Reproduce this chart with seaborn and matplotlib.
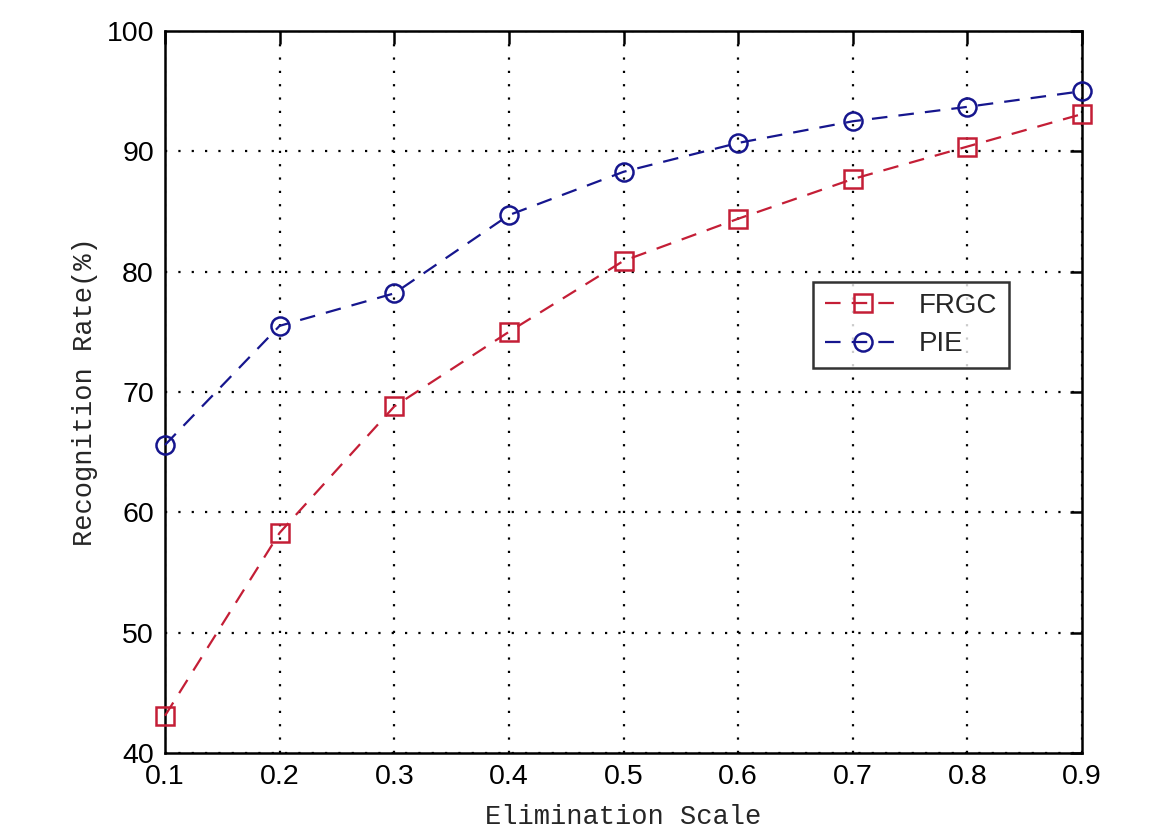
import matplotlib
matplotlib.use("Agg")
import matplotlib.pyplot as plt
import seaborn as sns
import pandas as pd

# Recognition rate versus elimination scale on two face datasets
scales = [0.1, 0.2, 0.3, 0.4, 0.5, 0.6, 0.7, 0.8, 0.9]
frgc = [43.1, 58.3, 68.8, 75.0, 80.9, 84.4, 87.7, 90.4, 93.1]
pie = [65.6, 75.5, 78.2, 84.7, 88.3, 90.7, 92.5, 93.7, 95.0]
x_ticks = [0.1, 0.2, 0.3, 0.4, 0.5, 0.6, 0.7, 0.8, 0.9]
y_ticks = [40, 50, 60, 70, 80, 90, 100]

df = pd.DataFrame({"scale": scales, "FRGC": frgc, "PIE": pie})

sns.set_style("white")
plt.rcParams["font.family"] = ["Liberation Sans", "DejaVu Sans"]

fig = plt.figure(figsize=(11.76, 8.34), dpi=100)
ax = fig.add_axes([0.1403, 0.0971, 0.7798, 0.8657])

red = "#c41e36"
blue = "#16168e"
dash = (0, (7, 5))

sns.lineplot(data=df, x="scale", y="FRGC", ax=ax, color=red, label="FRGC",
             marker="s", markersize=12.5, markerfacecolor="none",
             markeredgecolor=red, markeredgewidth=1.8,
             linewidth=1.6, linestyle=dash, clip_on=False, zorder=4)
sns.lineplot(data=df, x="scale", y="PIE", ax=ax, color=blue, label="PIE",
             marker="o", markersize=13, markerfacecolor="none",
             markeredgecolor=blue, markeredgewidth=1.8,
             linewidth=1.6, linestyle=dash, clip_on=False, zorder=4)

ax.set_xlim(0.1, 0.9)
ax.set_ylim(40, 100)
ax.set_xticks(x_ticks)
ax.set_yticks(y_ticks)
ax.set_xticklabels([f"{v:.1f}" for v in x_ticks])
ax.set_yticklabels([str(v) for v in y_ticks])

ax.grid(True, color="black", linestyle=(0, (1, 5)), linewidth=1.6)
for side in ax.spines.values():
    side.set_color("black")
    side.set_linewidth(1.8)

ax.tick_params(axis="both", direction="in", length=9, width=1.8,
               top=True, right=True, labelsize=20.5, pad=8, colors="black")

ax.set_xlabel("Elimination Scale", family=["Liberation Mono", "DejaVu Sans Mono"],
              fontsize=19.5, labelpad=10)
ax.set_ylabel("Recognition Rate(%)", family=["Liberation Mono", "DejaVu Sans Mono"],
              fontsize=19.5, labelpad=6)

leg = ax.legend(loc="upper left", bbox_to_anchor=(0.692, 0.672),
                fontsize=20, frameon=True, fancybox=False,
                edgecolor="black", handlelength=2.8, borderpad=0.4,
                labelspacing=0.45, handletextpad=0.6)
leg.get_frame().set_linewidth(1.8)

fig.savefig("out.png", dpi=100, facecolor="white")
